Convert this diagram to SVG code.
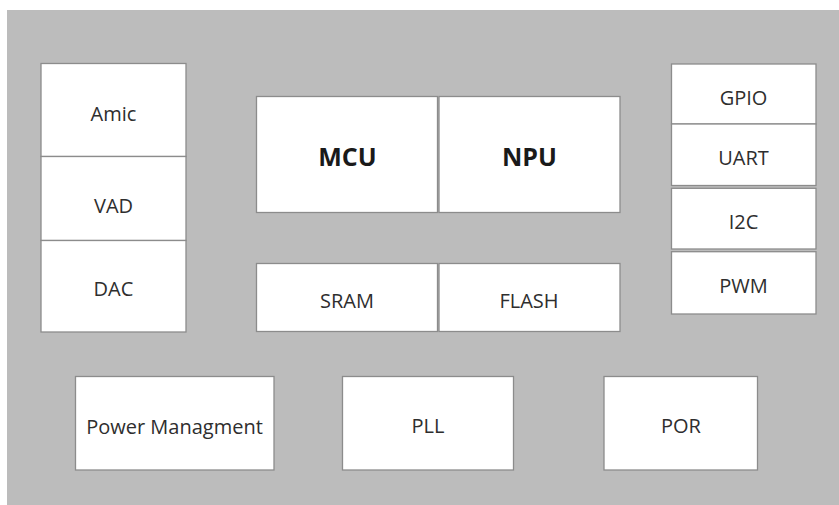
<svg xmlns="http://www.w3.org/2000/svg" width="839" height="505" viewBox="0 0 839 505">
<style>
.b{fill:#ffffff;stroke:#8c8c8c;stroke-width:1.3}
.t{font-family:"Open Sans","Liberation Sans",sans-serif;font-size:20px;fill:#2e2e2e;text-anchor:middle}
.tb{font-family:"Open Sans","Liberation Sans",sans-serif;font-size:25px;font-weight:bold;fill:#1a1a1a;text-anchor:middle}
</style>
<rect x="0" y="0" width="839" height="505" fill="#ffffff"/>
<rect x="7" y="10" width="832" height="495" fill="#bcbcbc"/>
<g id="amic"><rect class="b" x="41" y="63.5" width="145" height="93"/><text class="t" x="113.5" y="121">Amic</text></g>
<g id="vad"><rect class="b" x="41" y="156.5" width="145" height="84"/><text class="t" x="113.5" y="213">VAD</text></g>
<g id="dac"><rect class="b" x="41" y="240.5" width="145" height="91.5"/><text class="t" x="113.5" y="296">DAC</text></g>
<g id="mcu"><rect class="b" x="256.5" y="96.5" width="181" height="116"/><text class="tb" x="347.5" y="166">MCU</text></g>
<g id="npu"><rect class="b" x="439" y="96.5" width="181" height="116"/><text class="tb" x="529.5" y="166">NPU</text></g>
<g id="sram"><rect class="b" x="256.5" y="263.5" width="181" height="68"/><text class="t" x="347" y="307.5">SRAM</text></g>
<g id="flash"><rect class="b" x="439" y="263.5" width="181" height="68"/><text class="t" x="529" y="307.5">FLASH</text></g>
<g id="gpio"><rect class="b" x="671.5" y="64" width="144.5" height="60"/><text class="t" x="743.5" y="104.5">GPIO</text></g>
<g id="uart"><rect class="b" x="671.5" y="124" width="144.5" height="61.5"/><text class="t" x="743.5" y="165">UART</text></g>
<g id="i2c"><rect class="b" x="671.5" y="188.3" width="144.5" height="60.7"/><text class="t" x="743.5" y="229">I2C</text></g>
<g id="pwm"><rect class="b" x="671.5" y="251.7" width="144.5" height="62.3"/><text class="t" x="743.5" y="292.5">PWM</text></g>
<g id="power"><rect class="b" x="75.5" y="376.5" width="198.5" height="93.5"/><text class="t" x="174.5" y="433.5">Power Managment</text></g>
<g id="pll"><rect class="b" x="342.5" y="376.5" width="171" height="93.5"/><text class="t" x="428" y="433">PLL</text></g>
<g id="por"><rect class="b" x="604" y="376.5" width="153.5" height="93.5"/><text class="t" x="681" y="433">POR</text></g>
<g id="connectors"/>
</svg>
